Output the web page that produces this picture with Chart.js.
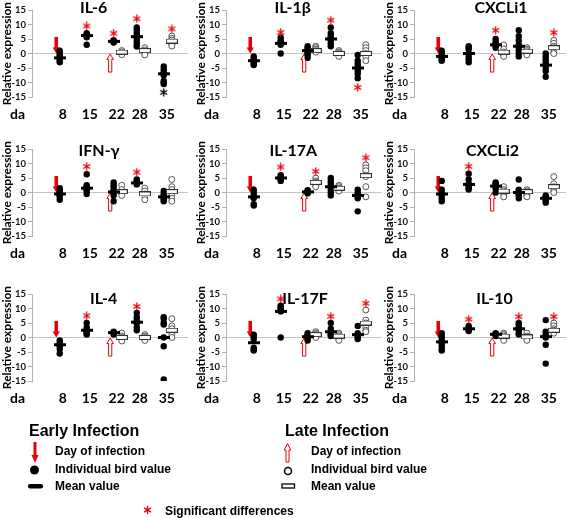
<!DOCTYPE html>
<html><head><meta charset="utf-8">
<script src="https://cdn.jsdelivr.net/npm/chart.js@4.4.1/dist/chart.umd.min.js"></script>
<style>
html,body{margin:0;padding:0;width:566px;height:518px;overflow:hidden;background:#fff}
body{position:relative}
canvas.p{position:absolute}
.lg{position:absolute;font-family:"Liberation Sans",Arial,sans-serif;font-weight:bold;white-space:nowrap;color:#000;line-height:1}
svg.lgs{position:absolute;left:0;top:400px}
</style></head><body>
<div id="wrap"></div>
<svg class="lgs" width="566" height="118" viewBox="0 0 566 118">
  <rect x="33.5" y="42" width="3" height="14" fill="#e8000b"/>
  <polygon points="31.5,55 38.5,55 35,63" fill="#e8000b"/>
  <circle cx="34.5" cy="70" r="4.5" fill="#000"/>
  <rect x="28" y="84" width="15" height="4.5" rx="2" fill="#000"/>
  <polygon points="287.5,43.5 290.8,50 289,50 289,62 286,62 286,50 284.2,50" fill="#fff" stroke="#e8000b" stroke-width="1"/>
  <circle cx="288" cy="71" r="3.5" fill="#fff" stroke="#000" stroke-width="1.5"/>
  <rect x="282" y="84" width="12.5" height="4" fill="#fff" stroke="#000" stroke-width="1.3"/>
  <g stroke="#e8000b" stroke-width="1.4" stroke-linecap="round">
    <line x1="147.5" y1="106.5" x2="147.5" y2="113.5"/>
    <line x1="144.5" y1="108.2" x2="150.5" y2="111.8"/>
    <line x1="144.5" y1="111.8" x2="150.5" y2="108.2"/>
  </g>
</svg>
<div class="lg" style="left:29px;top:423px;font-size:16px">Early Infection</div>
<div class="lg" style="left:285px;top:423px;font-size:16px">Late Infection</div>
<div class="lg" style="left:55px;top:445px;font-size:12px">Day of infection</div>
<div class="lg" style="left:311px;top:445px;font-size:12px">Day of infection</div>
<div class="lg" style="left:55px;top:463px;font-size:12px">Individual bird value</div>
<div class="lg" style="left:311px;top:463px;font-size:12px">Individual bird value</div>
<div class="lg" style="left:55px;top:480px;font-size:12px">Mean value</div>
<div class="lg" style="left:311px;top:480px;font-size:12px">Mean value</div>
<div class="lg" style="left:165px;top:505px;font-size:12px">Significant differences</div>
<script>
// ---------------- data ----------------
const days = [8, 15, 22, 28, 35];
const lateDays = [22, 28, 35];
const genes = ['IL-6', 'IL-1β', 'CXCLi1', 'IFN-γ', 'IL-17A', 'CXCLi2', 'IL-4', 'IL-17F', 'IL-10'];

const il6Early = [[1, 0.3, -0.5, -1, -1.8, -2.5, -3], [7, 6.6, 6.2, 6, 5.6, 3], [4.6, 4.3, 4, 3.8], [9, 8, 7, 6, 5, 4, 3, 2.4], [-4.5, -5.5, -6.5, -7, -7.5, -9.5, -10, -10.5]];
const il6EarlyMean = [-1.5, 6.2, 4.2, 5.8, -7];
const il6Late = [[1, 0.5, 0, -0.4], [2, 1.2, 0.5, 0, -0.5], [6, 5.2, 4.6, 4, 3.2, 2.6]];
const il6LateMean = [0.5, 1, 4.3];
const il6Stars = [[15, 'early', 9.5, 'red'], [22, 'early', 7, 'red'], [28, 'early', 12, 'red'], [35, 'late', 8.5, 'red'], [35, 'early', -13.4, 'black']];

const il1bEarly = [[-1, -1.8, -2.4, -3, -3.5, -4], [5.5, 4.6, 4, 3.5, 3, 0], [2.5, 2, 1.5, 1, 0.5, 0, -0.5, -1.5], [9, 7, 6, 5.5, 5, 4.5, 3.5, 2.5], [-0.5, -2.5, -3.5, -4.5, -5, -6, -7, -8.5]];
const il1bEarlyMean = [-2.5, 3.5, 1, 5, -5];
const il1bLate = [[2.5, 2, 1.5, 1, 0.5], [1, 0.5, 0, -0.5, -1], [3, 2, 1, 0, -1, -2.5]];
const il1bLateMean = [1, 0, 0];
const il1bStars = [[15, 'early', 7.3, 'red'], [28, 'early', 11.5, 'red'], [35, 'early', -11.7, 'red']];

const cxcli1Early = [[1, 0.3, -0.5, -1, -1.5, -2, -2.5], [2.5, 2, 1.5, 0, -1, -2, -3], [5, 4, 3.5, 3, 2.5, 2], [8, 6, 4.5, 3, 2, 1, 0, -1], [0, -1, -2, -3, -4, -5, -6, -8]];
const cxcli1EarlyMean = [-1, 0, 3, 2.5, -4];
const cxcli1Late = [[3, 1.5, 0.5, 0, -0.5, -1], [2, 1.5, 1, 0.5, 0, -0.5], [4.5, 3.5, 2.5, 2, 1.5, 0.5, 0]];
const cxcli1LateMean = [0.5, 0.8, 2];
const cxcli1Stars = [[22, 'early', 8, 'red'], [35, 'late', 7.2, 'red']];

const ifngEarly = [[1.5, 1, 0.5, 0, -0.5, -1, -1.5, -2.5], [6.3, 2.5, 2, 1.5, 1, 0.5, -0.5], [3.5, 2.5, 2, 1, 0, -1, -3], [4.5, 4, 3.5, 3, 2.8], [0.5, -0.5, -1, -1.5, -2, -2.5, -3]];
const ifngEarlyMean = [-0.5, 1.5, 0.2, 3.3, -1.5];
const ifngLate = [[2.5, 1, 0, -0.5, -1], [1.5, 0.5, -0.5, -1.5, -2.5], [4.5, 2, 1, 0, -1, -2, -3]];
const ifngLateMean = [0.3, -0.5, 0.3];
const ifngStars = [[15, 'early', 9, 'red'], [28, 'early', 7, 'red']];

const il17aEarly = [[1, 0, -1, -2, -4, -4.5], [6, 5.5, 5, 4.8, 4.5, 4], [0.8, 0.5, 0, -0.3], [5, 4, 3, 2, 1, 0, -1], [1, 0, -0.5, -1, -1.5, -2, -6.5]];
const il17aEarlyMean = [-1.5, 5, 0.2, 2, -1];
const il17aLate = [[5, 4, 3.5, 3, 2.5, 2], [2.5, 2, 1.5, 1, 0.5], [9.5, 8.5, 7.5, 6, 5.5, 2, -1.5]];
const il17aLateMean = [3.5, 1.5, 5.8];
const il17aStars = [[15, 'early', 8.8, 'red'], [22, 'late', 7.3, 'red'], [35, 'late', 12, 'red']];

const cxcli2Early = [[4, 1, 0, -0.5, -1, -2, -3], [6.5, 4.5, 3, 2.5, 2, 1.5, 1], [3.5, 3, 2.5, 2, 1.5, 0], [4.5, 1, 0.5, 0, -0.5, -1, -2], [-1, -1.5, -2, -2.5, -3, -3.5]];
const cxcli2EarlyMean = [-0.5, 2.8, 2.2, 0, -2];
const cxcli2Late = [[2, 1, 0.5, 0, -0.5, -1.5], [1, 0.5, 0, -0.5, -1, -1.5], [5.5, 3, 2, 1.5, 0.5, 0]];
const cxcli2LateMean = [0.5, 0.3, 2];
const cxcli2Stars = [[15, 'early', 9, 'red']];

const il4Early = [[-1, -2, -3, -4, -5.5], [5, 3.5, 2.5, 2, 1.5, 1], [2, 1.8, 1.5, 1], [8.5, 7, 6, 5, 3.5, 2.5], [7, 6.5, 5, 4.5, 0, -3, -14.5]];
const il4EarlyMean = [-2.5, 2.5, 1.7, 5.3, 0];
const il4Late = [[1.5, 0.5, 0, -0.5, -1.2], [1, 0.5, 0, -0.5, -1], [6.5, 4, 3, 2, 1, 0]];
const il4LateMean = [0, 0, 2.5];
const il4Stars = [[15, 'early', 7.5, 'red'], [28, 'early', 10.7, 'red']];

const il17fEarly = [[1, 0.5, -0.5, -3.5, -4, -4.5], [11, 10.5, 10, 9.5, 9, 0], [1.5, 1, 0.5, 0, -0.5, -1], [5, 3, 2, 1.5, 1, 0.5], [4, 1.5, 1, 0.5, 0, -0.5]];
const il17fEarlyMean = [-1.8, 9, 0.3, 2, 1];
const il17fLate = [[2, 1.5, 1, 0.5, 0], [1.5, 1, 0.5, 0, -0.5, -1], [9.5, 6, 5, 4.5, 3.5, 2.5, 2]];
const il17fLateMean = [1, 0.5, 5];
const il17fStars = [[15, 'early', 13.3, 'red'], [28, 'early', 7.3, 'red'], [35, 'late', 11.8, 'red']];

const il10Early = [[1.5, 0.5, 0, -1, -2, -3, -4, -4.5], [4, 3.5, 3, 2.5, 2.2], [1.5, 1.2, 1, 0.5], [5, 4.5, 3.5, 3, 2.5, 1.5, 1], [6, 2, 1, 0.5, 0, -2.5, -9]];
const il10EarlyMean = [-1.5, 3, 1.1, 3, 0.3];
const il10Late = [[1.5, 1, 0.5, 0, -0.5, -1], [1.5, 0.5, 0, -0.5, -1], [5, 4, 3, 2.5, 2, 1.5]];
const il10LateMean = [0.5, 0.2, 2.5];
const il10Stars = [[15, 'early', 6.3, 'red'], [28, 'early', 7.2, 'red'], [35, 'late', 7.2, 'red']];

// infection arrows (day, from value, to value)
const earlyInfectionArrow = [6.3, 5.7, 0];
const lateInfectionArrow = [20.3, -6.4, 0];

// ---------------- layout ----------------
const panels = [
  [genes[0], il6Early, il6EarlyMean, il6Late, il6LateMean, il6Stars],
  [genes[1], il1bEarly, il1bEarlyMean, il1bLate, il1bLateMean, il1bStars],
  [genes[2], cxcli1Early, cxcli1EarlyMean, cxcli1Late, cxcli1LateMean, cxcli1Stars],
  [genes[3], ifngEarly, ifngEarlyMean, ifngLate, ifngLateMean, ifngStars],
  [genes[4], il17aEarly, il17aEarlyMean, il17aLate, il17aLateMean, il17aStars],
  [genes[5], cxcli2Early, cxcli2EarlyMean, cxcli2Late, cxcli2LateMean, cxcli2Stars],
  [genes[6], il4Early, il4EarlyMean, il4Late, il4LateMean, il4Stars],
  [genes[7], il17fEarly, il17fEarlyMean, il17fLate, il17fLateMean, il17fStars],
  [genes[8], il10Early, il10EarlyMean, il10Late, il10LateMean, il10Stars]
];
const colAxisX = [32, 226, 414];
const rowTop = [10, 149, 294];
const titlePos = [[16, 15.9], [17.3, 15.9], [22.6, 15.9], [17.4, 14.3], [17.5, 14.3], [20.4, 14.3], [18.6, 13.5], [20.5, 13.5], [20.9, 13.5]];
const EARLY_DX = -0.8, LATE_DX = 1.3;
const PAD_TOP = 14, Y_W = 32, PLOT_W = 156, PLOT_H = 87, X_H = 28, PAD_R = 7;
const RED = '#e8000b';

function starImg(color) {
  const c = document.createElement('canvas'); c.width = 9; c.height = 9;
  const g = c.getContext('2d'); g.strokeStyle = color; g.lineWidth = 1.4; g.lineCap = 'round';
  for (const a of [90, 30, 150]) {
    const r = a * Math.PI / 180;
    g.beginPath(); g.moveTo(4.5 + 3.5 * Math.cos(r), 4.5 - 3.5 * Math.sin(r));
    g.lineTo(4.5 - 3.5 * Math.cos(r), 4.5 + 3.5 * Math.sin(r)); g.stroke();
  }
  return c;
}
function barImg(filled) {
  const c = document.createElement('canvas'); c.width = 12; c.height = 5;
  const g = c.getContext('2d');
  if (filled) { g.fillStyle = '#000'; g.fillRect(0, 1, 12, 3); }
  else { g.fillStyle = '#fff'; g.fillRect(0, 0, 12, 5); g.strokeStyle = '#333'; g.lineWidth = 1; g.strokeRect(0.5, 0.5, 11, 4); }
  return c;
}
const redStar = starImg(RED), blackStar = starImg('#000');
const meanFilled = barImg(true), meanOpen = barImg(false);

const decor = {
  id: 'decor',
  beforeDatasetsDraw(chart) {
    const ctx = chart.ctx, xs = chart.scales.x, ys = chart.scales.y;
    // early infection: solid down arrow
    let x = xs.getPixelForValue(earlyInfectionArrow[0]);
    let y0 = ys.getPixelForValue(earlyInfectionArrow[1]), y1 = ys.getPixelForValue(earlyInfectionArrow[2]);
    ctx.save();
    ctx.fillStyle = RED;
    ctx.fillRect(x - 1.8, y0, 3.6, (y1 - 5.5) - y0 + 0.5);
    ctx.beginPath(); ctx.moveTo(x - 3.6, y1 - 6); ctx.lineTo(x + 3.6, y1 - 6); ctx.lineTo(x, y1); ctx.closePath(); ctx.fill();
    // late infection: hollow up arrow
    x = xs.getPixelForValue(lateInfectionArrow[0]);
    y0 = ys.getPixelForValue(lateInfectionArrow[1]); y1 = ys.getPixelForValue(lateInfectionArrow[2]);
    ctx.beginPath();
    ctx.moveTo(x, y1 + 0.5); ctx.lineTo(x + 3.3, y1 + 6); ctx.lineTo(x + 1.6, y1 + 6); ctx.lineTo(x + 1.6, y0);
    ctx.lineTo(x - 1.6, y0); ctx.lineTo(x - 1.6, y1 + 6); ctx.lineTo(x - 3.3, y1 + 6); ctx.closePath();
    ctx.fillStyle = '#fff'; ctx.fill(); ctx.strokeStyle = RED; ctx.lineWidth = 1; ctx.stroke();
    ctx.restore();
  },
  afterDraw(chart, args, opts) {
    const ctx = chart.ctx, xs = chart.scales.x, ys = chart.scales.y;
    ctx.save();
    ctx.fillStyle = '#000';
    ctx.font = 'bold 16px Lato';
    ctx.textAlign = 'center'; ctx.textBaseline = 'middle';
    ctx.fillText(opts.title, xs.getPixelForValue(opts.tx), ys.getPixelForValue(opts.ty));
    const items = xs.getLabelItems();
    if (items.length) {
      const it = items[0];
      ctx.font = 'bold 14px Lato';
      ctx.textBaseline = it.options.textBaseline;
      ctx.fillText('da', chart.chartArea.left - 14.5, it.options.translation[1] + (it.textOffset || 0));
    }
    ctx.restore();
  }
};

const wrap = document.getElementById('wrap');
panels.forEach((p, idx) => {
  const [name, early, earlyMean, late, lateMean, stars] = p;
  const col = idx % 3, row = Math.floor(idx / 3);
  const cv = document.createElement('canvas');
  cv.className = 'p';
  cv.width = Y_W + PLOT_W + PAD_R; cv.height = PAD_TOP + PLOT_H + X_H;
  cv.style.left = (colAxisX[col] - Y_W) + 'px';
  cv.style.top = (rowTop[row] - PAD_TOP) + 'px';
  wrap.appendChild(cv);

  const earlyPts = [], latePts = [], emPts = [], lmPts = [], redPts = [], blackPts = [];
  early.forEach((vals, i) => vals.forEach(v => earlyPts.push({ x: days[i] + EARLY_DX, y: v })));
  late.forEach((vals, i) => vals.forEach(v => latePts.push({ x: lateDays[i] + LATE_DX, y: v })));
  earlyMean.forEach((v, i) => emPts.push({ x: days[i] + EARLY_DX, y: v }));
  lateMean.forEach((v, i) => lmPts.push({ x: lateDays[i] + LATE_DX, y: v }));
  stars.forEach(s => {
    const pt = { x: s[0] + (s[1] === 'early' ? EARLY_DX : LATE_DX), y: s[2] };
    (s[3] === 'red' ? redPts : blackPts).push(pt);
  });

  new Chart(cv, {
    type: 'scatter',
    data: {
      datasets: [
        { data: emPts, pointStyle: meanFilled, pointRadius: 6 },
        { data: lmPts, pointStyle: meanOpen, pointRadius: 6 },
        { data: redPts, pointStyle: redStar, pointRadius: 5 },
        { data: blackPts, pointStyle: blackStar, pointRadius: 5 },
        { data: earlyPts, pointStyle: 'circle', pointRadius: 3.2, pointBackgroundColor: '#000', pointBorderColor: '#000', pointBorderWidth: 0 },
        { data: latePts, pointStyle: 'circle', pointRadius: 3, pointBackgroundColor: '#fff', pointBorderColor: '#555', pointBorderWidth: 1 }
      ]
    },
    options: {
      responsive: false, animation: false, events: [],
      layout: { padding: { top: PAD_TOP, right: PAD_R, left: 0, bottom: 0 } },
      plugins: { legend: { display: false }, tooltip: { enabled: false }, decor: { title: name, tx: titlePos[idx][0], ty: titlePos[idx][1] } },
      scales: {
        x: {
          type: 'linear', min: 0, max: 40.5, position: 'bottom',
          grid: { display: false, drawTicks: false }, border: { display: false },
          afterBuildTicks: s => { s.ticks = days.map(v => ({ value: v })); },
          afterFit: s => { s.height = X_H; },
          ticks: { autoSkip: false, maxRotation: 0, padding: 9, color: '#000', font: { family: 'Lato', weight: 'bold', size: 14 } }
        },
        y: {
          min: -15, max: 15,
          afterFit: s => { s.width = Y_W; },
          ticks: { stepSize: 5, padding: 2, color: '#111', font: { family: 'Lato', weight: 'bold', size: 9.5 } },
          grid: { color: c => (c.tick && c.tick.value === 0) ? '#c4c4c4' : 'rgba(0,0,0,0)', tickColor: '#b0b0b0', tickLength: 4, lineWidth: 1 },
          border: { color: '#b0b0b0' },
          title: { display: true, text: 'Relative expression', color: '#000', font: { family: 'Lato', weight: 'bold', size: 12 }, padding: { top: 0, bottom: 0 } }
        }
      }
    },
    plugins: [decor]
  });
});
</script>
</body></html>
